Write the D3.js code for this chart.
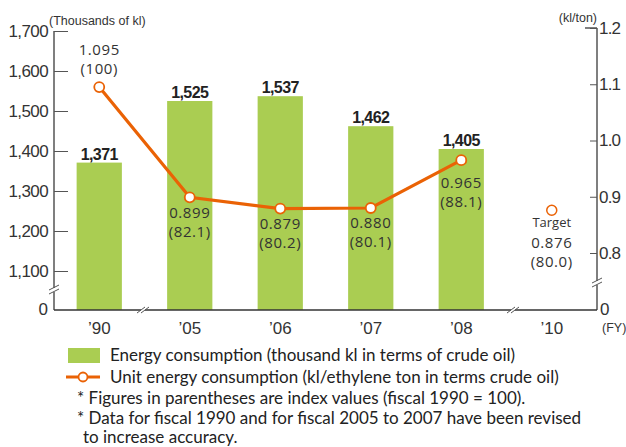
<!DOCTYPE html>
<html>
<head>
<meta charset="utf-8">
<script src="https://cdn.jsdelivr.net/npm/d3@7"></script>
<style>
  body { margin: 0; background: #fff; }
  svg { display: block; }
</style>
</head>
<body>
<svg id="chart" width="626" height="447"></svg>
<script>
"use strict";

// --- data ---
const years = ["’90", "’05", "’06", "’07", "’08", "’10"]
const energy = [1371, 1525, 1537, 1462, 1405, null]     // thousand kl
const unitEnergy = [1.095, 0.899, 0.879, 0.880, 0.965]  // kl/ton, '90..'08
const indexValues = ["(100)", "(82.1)", "(80.2)", "(80.1)", "(88.1)"]
const targetValue = 0.876
const targetIndex = "(80.0)"
const leftTicks = [1100, 1200, 1300, 1400, 1500, 1600, 1700]
const rightTicks = [0.8, 0.9, 1.0, 1.1, 1.2]

const GREEN = "#aacd52"
const ORANGE = "#ea6205"
const AXIS = "#555"
const TEXT = "#333"
const tickFont = "17px 'Liberation Sans', Arial, sans-serif"

const svg = d3.select("#chart")

const x = d3.scaleBand().domain(years).range([54, 597]).paddingInner(0.5).paddingOuter(0.25)
const yL = d3.scaleLinear().domain([1100, 1700]).range([271, 31])
const yR = d3.scaleLinear().domain([0.8, 1.2]).range([253, 28])
const baseY = 310
const cx = d => x(d) + x.bandwidth() / 2

// bars
const barData = years.map((y, i) => ({y, v: energy[i]})).filter(d => d.v != null)
svg.append("g").selectAll("rect")
    .data(barData)
    .enter().append("rect")
    .attr("x", d => x(d.y))
    .attr("width", x.bandwidth())
    .attr("y", d => yL(d.v))
    .attr("height", d => baseY - yL(d.v))
    .attr("fill", GREEN)

// bar labels
svg.append("g").selectAll("text")
    .data(barData)
    .enter().append("text")
    .attr("x", d => cx(d.y))
    .attr("y", d => yL(d.v) - 3)
    .attr("text-anchor", "middle")
    .style("font", "bold 16px 'Liberation Sans', Arial, sans-serif")
    .style("letter-spacing", "-0.6px")
    .attr("fill", "#222")
    .text(d => d3.format(",")(d.v))

// left axis
const gL = svg.append("g").attr("transform", "translate(54,0)")
    .call(d3.axisLeft(yL).tickValues(leftTicks).tickFormat(d3.format(","))
        .tickSizeInner(-14).tickSizeOuter(0).tickPadding(6))
gL.select(".domain").remove()
gL.selectAll(".tick line").attr("stroke", AXIS)
gL.selectAll(".tick text")
    .style("font", tickFont)
    .style("letter-spacing", "-0.6px")
    .attr("fill", TEXT)
gL.append("line").attr("y1", 31).attr("y2", baseY).attr("stroke", AXIS).attr("stroke-width", 1.5)
gL.append("text").attr("x", -6).attr("y", baseY).attr("dy", "0.32em")
    .attr("text-anchor", "end").attr("fill", TEXT)
    .style("font", tickFont).text("0")

// right axis
const gR = svg.append("g").attr("transform", "translate(597,0)")
    .call(d3.axisRight(yR).tickValues(rightTicks).tickFormat(d3.format(".1f"))
        .tickSizeInner(-7).tickSizeOuter(0).tickPadding(2))
gR.select(".domain").remove()
gR.selectAll(".tick line").attr("stroke", AXIS)
gR.selectAll(".tick text")
    .style("font", tickFont)
    .style("letter-spacing", "-0.8px")
    .attr("fill", TEXT)
gR.append("line").attr("y1", 28).attr("y2", baseY).attr("stroke", AXIS).attr("stroke-width", 1.5)
gR.append("line").attr("x1", -12).attr("x2", 0).attr("y1", 28).attr("y2", 28).attr("stroke", AXIS).attr("stroke-width", 1.5)
gR.append("text").attr("x", 3).attr("y", baseY).attr("dy", "0.32em")
    .attr("fill", TEXT)
    .style("font", tickFont).text("0")

// bottom axis line
svg.append("line").attr("x1", 54).attr("x2", 597).attr("y1", baseY).attr("y2", baseY)
    .attr("stroke", "#333").attr("stroke-width", 1.5)

// x labels
svg.append("g").selectAll("text").data(years).enter().append("text")
    .attr("x", d => cx(d)).attr("y", 334)
    .attr("text-anchor", "middle").attr("fill", TEXT)
    .style("font", tickFont)
    .text(d => d)

// unit labels
const small = "12.5px 'Liberation Sans', Arial, sans-serif"
svg.append("text").attr("x", 49).attr("y", 25).attr("fill", TEXT).style("font", small).text("(Thousands of kl)")
svg.append("text").attr("x", 597).attr("y", 22).attr("text-anchor", "end").attr("fill", TEXT).style("font", small).text("(kl/ton)")
svg.append("text").attr("x", 602).attr("y", 332).attr("fill", TEXT).style("font", small).text("(FY)")

// break marks
function breakMark (px, py, horizontal) {
    const g = svg.append("g").attr("transform", `translate(${px},${py})`)
    if (horizontal) {
        g.append("rect").attr("x", -2).attr("y", -4).attr("width", 4).attr("height", 8).attr("fill", "#fff")
        g.append("line").attr("x1", -6).attr("y1", 3).attr("x2", 2).attr("y2", -3).attr("stroke", AXIS)
        g.append("line").attr("x1", -2).attr("y1", 3).attr("x2", 6).attr("y2", -3).attr("stroke", AXIS)
    } else {
        g.append("rect").attr("x", -4).attr("y", -2).attr("width", 8).attr("height", 4).attr("fill", "#fff")
        g.append("line").attr("x1", -5).attr("y1", 0).attr("x2", 5).attr("y2", -5).attr("stroke", AXIS)
        g.append("line").attr("x1", -5).attr("y1", 4).attr("x2", 5).attr("y2", -1).attr("stroke", AXIS)
    }
}
breakMark(54, 290, false)
breakMark(597, 283, false)
breakMark(143, baseY, true)
breakMark(513, baseY, true)

// line series
const pts = unitEnergy.map((v, i) => ({y: years[i], v, idx: indexValues[i]}))
svg.append("path").datum(pts)
    .attr("d", d3.line().x(d => cx(d.y)).y(d => yR(d.v)))
    .attr("fill", "none").attr("stroke", ORANGE).attr("stroke-width", 3.2)
svg.append("g").selectAll("circle").data(pts).enter().append("circle")
    .attr("cx", d => cx(d.y)).attr("cy", d => yR(d.v)).attr("r", 5)
    .attr("fill", "#fff").attr("stroke", ORANGE).attr("stroke-width", 1.8)

// target point
svg.append("circle").attr("cx", cx("’10")).attr("cy", yR(targetValue)).attr("r", 5)
    .attr("fill", "#fff").attr("stroke", ORANGE).attr("stroke-width", 1.5)

// value labels (offsets from point, px)
const labelDy = [-32, 21, 20, 20, 28]
const valFont = "15px 'Open Sans', sans-serif"
pts.forEach((d, i) => {
    const t = svg.append("text")
        .attr("x", cx(d.y)).attr("y", yR(d.v) + labelDy[i])
        .attr("text-anchor", "middle").attr("fill", TEXT)
        .style("font", valFont).style("letter-spacing", "0.6px")
    t.append("tspan").attr("x", cx(d.y)).text(d3.format(".3f")(d.v))
    t.append("tspan").attr("x", cx(d.y)).attr("dy", 19).text(d.idx)
})
const tt = svg.append("text")
    .attr("x", cx("’10")).attr("y", yR(targetValue) + 17)
    .attr("text-anchor", "middle").attr("fill", TEXT)
    .style("font", valFont).style("letter-spacing", "0.6px")
tt.append("tspan").attr("x", cx("’10")).style("font-size", "13px").style("letter-spacing", "0").text("Target")
tt.append("tspan").attr("x", cx("’10")).attr("dy", 21).text(d3.format(".3f")(targetValue))
tt.append("tspan").attr("x", cx("’10")).attr("dy", 19).text(targetIndex)

// legend
const legFont = "17px Lato, sans-serif"
svg.append("rect").attr("x", 68).attr("y", 348).attr("width", 32).attr("height", 15).attr("fill", GREEN)
svg.append("line").attr("x1", 66).attr("x2", 100).attr("y1", 377).attr("y2", 377).attr("stroke", ORANGE).attr("stroke-width", 3.2)
svg.append("circle").attr("cx", 83).attr("cy", 377).attr("r", 4.5).attr("fill", "#fff").attr("stroke", ORANGE).attr("stroke-width", 1.8)
const legendLines = [
    [110, 361, "Energy consumption (thousand kl in terms of crude oil)"],
    [110, 383, "Unit energy consumption (kl/ethylene ton in terms crude oil)"],
    [77, 404, "* Figures in parentheses are index values (fiscal 1990 = 100)."],
    [77, 424, "* Data for fiscal 1990 and for fiscal 2005 to 2007 have been revised"],
    [83, 443, "to increase accuracy."]
]
svg.append("g").selectAll("text").data(legendLines).enter().append("text")
    .attr("x", d => d[0]).attr("y", d => d[1]).attr("fill", "#222")
    .style("font", legFont)
    .text(d => d[2])
</script>
</body>
</html>
